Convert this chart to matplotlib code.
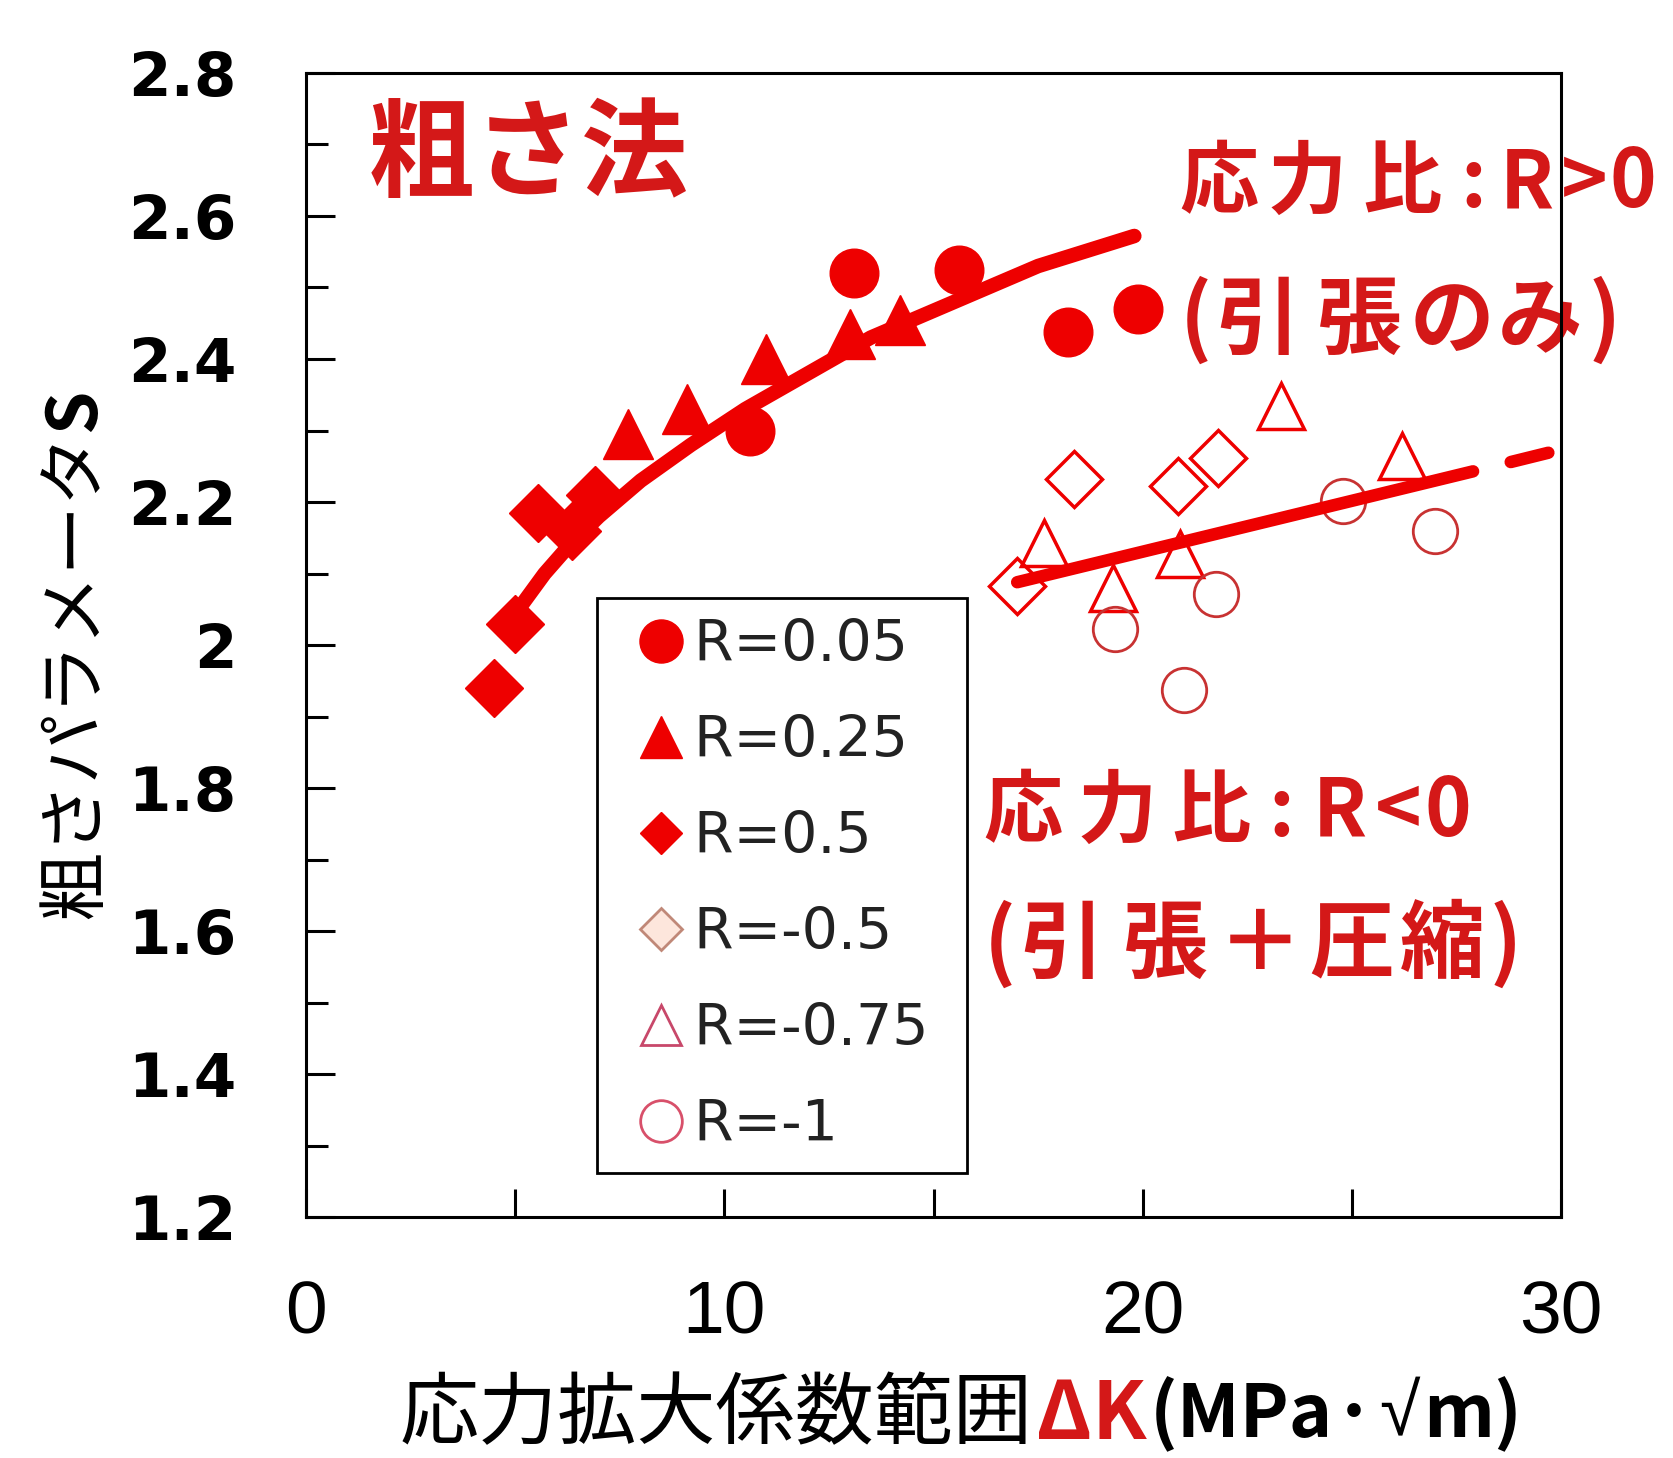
import matplotlib.pyplot as plt
from matplotlib.lines import Line2D
from matplotlib.ticker import FixedLocator

plt.rcParams["font.family"] = ["Noto Sans CJK JP", "DejaVu Sans"]

# --- values ---
# R > 0 (filled symbols)
r005_x = [10.6, 13.1, 15.6, 18.22, 19.9]
r005_y = [2.30, 2.52, 2.525, 2.438, 2.47]
r025_x = [7.7, 9.1, 11.0, 13.0, 14.2]
r025_y = [2.295, 2.33, 2.40, 2.435, 2.455]
r05_x = [4.5, 5.0, 5.55, 6.35, 6.9]
r05_y = [1.94, 2.03, 2.185, 2.16, 2.21]

# R < 0 (open symbols)
rm05_x = [17.0, 18.35, 20.85, 21.8]
rm05_y = [2.083, 2.232, 2.222, 2.262]
rm075_x = [17.65, 19.3, 20.9, 23.3, 26.2]
rm075_y = [2.143, 2.08, 2.128, 2.335, 2.264]
rm1_x = [19.35, 21.0, 21.75, 24.8, 27.0]
rm1_y = [2.022, 1.938, 2.071, 2.201, 2.16]

# trend lines as drawn in the picture
fit_pos_x = [4.7, 5.2, 5.7, 6.3, 7.0, 8.0, 9.2, 10.5, 12.0, 13.5, 15.5, 17.5, 19.8]
fit_pos_y = [2.02, 2.06, 2.10, 2.14, 2.18, 2.23, 2.28, 2.33, 2.38, 2.43, 2.48, 2.53, 2.572]
fit_neg_x = [17.0, 27.9]
fit_neg_y = [2.088, 2.243]
ext_neg_x = [28.8, 29.7]
ext_neg_y = [2.256, 2.269]

legend_labels = ["R=0.05", "R=0.25", "R=0.5", "R=-0.5", "R=-0.75", "R=-1"]

x_ticks = [0, 10, 20, 30]
x_minor = [5, 15, 25]
y_ticks = [1.2, 1.4, 1.6, 1.8, 2.0, 2.2, 2.4, 2.6, 2.8]
y_tick_labels = ["1.2", "1.4", "1.6", "1.8", "2", "2.2", "2.4", "2.6", "2.8"]
y_minor = [1.3, 1.5, 1.7, 1.9, 2.1, 2.3, 2.5, 2.7]

RED = "#ee0000"
TEXT_RED = "#d41818"
W, H = 1673, 1458

fig = plt.figure(figsize=(W / 100, H / 100), dpi=100)
ax = fig.add_axes([0.183, 0.165, 0.750, 0.785])

# data points
ax.plot(r005_x, r005_y, "o", ms=35, color=RED, zorder=3)
ax.plot(r025_x, r025_y, "^", ms=36, color=RED, zorder=3)
ax.plot(r05_x, r05_y, "D", ms=30, color=RED, zorder=3)
ax.plot(rm05_x, rm05_y, "D", ms=29, mfc="none", mec=RED, mew=2.5, zorder=3)
ax.plot(rm075_x, rm075_y, "^", ms=33, mfc="none", mec=RED, mew=2.5, zorder=3)
ax.plot(rm1_x, rm1_y, "o", ms=32, mfc="none", mec="#c83232", mew=2, zorder=3)

# trend lines
ax.plot(fit_pos_x, fit_pos_y, "-", color=RED, lw=10.5, solid_capstyle="round",
        solid_joinstyle="round", zorder=4)
ax.plot(fit_neg_x, fit_neg_y, "-", color=RED, lw=9, solid_capstyle="round", zorder=4)
ax.plot(ext_neg_x, ext_neg_y, "-", color=RED, lw=9, solid_capstyle="round", zorder=4)

ax.set_xlim(0, 30)
ax.set_ylim(1.2, 2.8)

ax.xaxis.set_major_locator(FixedLocator(x_ticks))
ax.xaxis.set_minor_locator(FixedLocator(x_minor))
ax.yaxis.set_major_locator(FixedLocator(y_ticks))
ax.yaxis.set_minor_locator(FixedLocator(y_minor))
ax.set_yticklabels(y_tick_labels, fontweight="bold", family="DejaVu Sans", fontsize=44)
ax.set_xticklabels([str(v) for v in x_ticks], family="Liberation Sans", fontsize=54)

ax.tick_params(axis="both", which="both", direction="in", width=2.2, color="black")
ax.tick_params(axis="y", which="major", length=21, pad=50)
ax.tick_params(axis="y", which="minor", length=16)
ax.tick_params(axis="x", which="both", length=20, pad=45)
for sp in ax.spines.values():
    sp.set_linewidth(2.2)

# legend
handles = [
    Line2D([], [], ls="none", marker="o", ms=31, color=RED),
    Line2D([], [], ls="none", marker="^", ms=30, color=RED),
    Line2D([], [], ls="none", marker="D", ms=21, color=RED),
    Line2D([], [], ls="none", marker="D", ms=21, mfc="#fde6dc", mec="#c08878", mew=2),
    Line2D([], [], ls="none", marker="^", ms=29, mfc="none", mec="#c8486a", mew=2),
    Line2D([], [], ls="none", marker="o", ms=30, mfc="none", mec="#d8506a", mew=2),
]
# a trailing space widens the box on the right like the original
leg = ax.legend(handles, [lab + " " for lab in legend_labels], loc="upper left",
                bbox_to_anchor=(0.232, 0.541), borderaxespad=0,
                prop={"family": "DejaVu Sans", "size": 41},
                frameon=True, fancybox=False, edgecolor="black", framealpha=1,
                borderpad=0.35, handlelength=1.55, handletextpad=-0.2, labelspacing=0.72)
leg.get_frame().set_linewidth(2)
leg.set_zorder(5)
for t in leg.get_texts():
    t.set_color("#222222")

# annotations
ax.text(1.46, 2.683, "粗さ法", fontsize=77, fontweight="bold", color=TEXT_RED,
        ha="left", va="center")


def spaced_label(text, centers, baseline, size):
    # one glyph at a time, to copy the wide letter spacing of the original;
    # kept under the spines so the right frame line crosses the text
    for ch, cx in zip(text, centers):
        ax.text(cx / W, 1 - baseline / H, ch, transform=fig.transFigure,
                fontsize=size, fontweight="bold", color=TEXT_RED,
                ha="center", va="baseline", zorder=2, clip_on=False)


spaced_label("応力比:R>0", [1219, 1307, 1402, 1473, 1527, 1584, 1633], 207, 57)
spaced_label("(引張のみ)", [1196, 1258, 1359, 1452, 1540, 1605], 347, 61)
spaced_label("応力比:R<0", [1023, 1117, 1211, 1281, 1340, 1398, 1448], 836, 57)
spaced_label("(引張＋圧縮)", [1000, 1062, 1165, 1260, 1352, 1442, 1506], 971, 61)

renderer = fig.canvas.get_renderer()

# x label built from pieces of different colour and weight
cjk = ["Noto Sans CJK JP", "DejaVu Sans"]
latin = ["Liberation Sans", "DejaVu Sans"]
xlabel_parts = [("応力拡大係数範囲", "black", "normal", cjk, 57),
                ("ΔK", TEXT_RED, "bold", cjk, 57),
                ("(MPa·", "black", "bold", cjk, 53),
                ("√", "black", "normal", latin, 53),
                ("m)", "black", "bold", cjk, 53)]
x = 400
for s, c, w, fam, size in xlabel_parts:
    t = fig.text(x / W, 0.029, s, color=c, fontweight=w, family=fam, fontsize=size,
                 ha="left", va="center")
    x += t.get_window_extent(renderer).width + 3

# y label, rotated, with bold S on top
t1 = fig.text(0.045, 0.370, "粗さパラメータ", rotation=90, fontsize=50,
              ha="center", va="bottom")
h = t1.get_window_extent(renderer).height / fig.bbox.height
fig.text(0.045, 0.370 + h, "S", rotation=90, fontsize=50, fontweight="bold",
         ha="center", va="bottom")

fig.savefig("out.png", dpi=100)
